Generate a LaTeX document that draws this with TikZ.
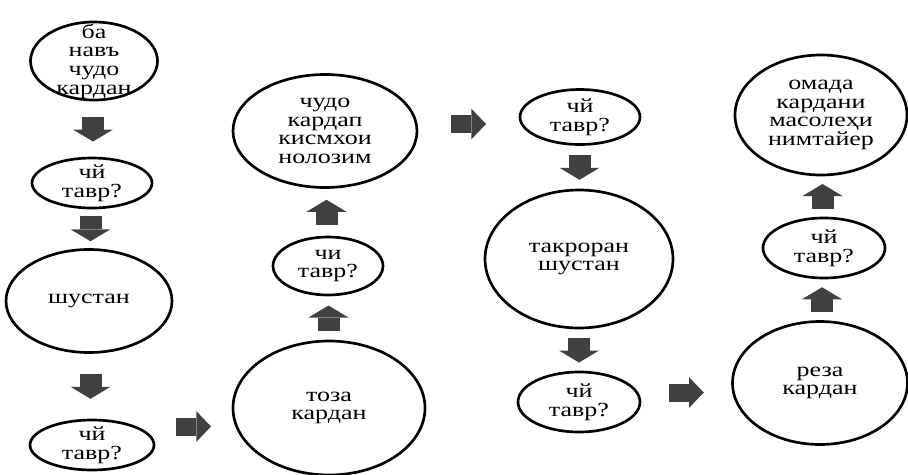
\documentclass[tikz,border=0pt]{standalone}
\usepackage{fontspec}
\setmainfont{Liberation Serif}[FakeStretch=1.3]
\usetikzlibrary{shapes.geometric,arrows.meta,calc}

\definecolor{flowgray}{RGB}{64,64,64}
\tikzset{every picture/.style={line width=0.75pt}}
\tikzset{
  ell/.style={draw, ellipse, line width=2pt, inner sep=0pt},
  txt/.style={align=center, inner sep=0pt, font=\fontsize{15}{14}\selectfont},
  vflow/.style={draw=flowgray, line width=16.5pt, -{Triangle[length=9pt,width=30pt,line width=0pt]}},
  hflow/.style={draw=flowgray, line width=13.5pt, -{Triangle[length=11pt,width=23pt,line width=0pt]}},
}

\begin{document}
\begin{tikzpicture}[x=0.75pt,y=0.75pt,yscale=-1,xscale=1]
	\useasboundingbox (0,0) rectangle (908,475);
	
	%Column 1
	\node [ell, minimum width=95.25pt, minimum height=58.5pt, label={[txt]center:ба\\навъ\\чудо\\кардан}] (e1) at (94,61) {};
	\node [ell, minimum width=90pt, minimum height=37.5pt, label={[txt]center:чй\\тавр?}] (e2) at (92,183) {};
	\node [ell, minimum width=124.5pt, minimum height=77.25pt, label={[txt]center:шустан}] (e3) at (89,301) {};
	\node [ell, minimum width=93pt, minimum height=37.5pt, label={[txt]center:чй\\тавр?}] (e4) at (92,445) {};
	%Column 2
	\node [ell, minimum width=144pt, minimum height=100.5pt, label={[txt]center:тоза\\кардан}] (e5) at (329,408) {};
	\node [ell, minimum width=82.5pt, minimum height=43.5pt, label={[txt]center:чи\\тавр?}] (e6) at (328,266) {};
	\node [ell, minimum width=138pt, minimum height=84.75pt, label={[txt]center:чудо\\кардап\\кисмхои\\нолозим}] (e7) at (325,131) {};
	%Column 3
	\node [ell, minimum width=90pt, minimum height=41.25pt, label={[txt]center:чй\\тавр?}] (e8) at (580,117) {};
	\node [ell, minimum width=141pt, minimum height=103.5pt, label={[txt]center:такроран\\шустан}] (e9) at (579,259) {};
	\node [ell, minimum width=91.5pt, minimum height=45pt, label={[txt]center:чй\\тавр?}] (e10) at (579,402) {};
	%Column 4
	\node [ell, minimum width=131.25pt, minimum height=92.25pt, label={[txt]center:реза\\кардан}] (e11) at (820,383) {};
	\node [ell, minimum width=91.5pt, minimum height=45pt, label={[txt]center:чй\\тавр?}] (e12) at (824,248) {};
	\node [ell, minimum width=129pt, minimum height=90pt, label={[txt]center:омада\\кардани\\масолеҳи\\нимтайер}] (e13) at (821,115) {};
	
	%Block arrows
	\draw [vflow] ($(e1.south)!.5!(e2.north)+(0,-12.5)$) -- ++(0,25);
	\draw [vflow] ($(e2.south)!.5!(e3.north)+(0,-12.5)$) -- ++(0,25);
	\draw [vflow] ($(e3.south)!.5!(e4.north)+(0,-12.5)$) -- ++(0,25);
	\draw [hflow] ($(e4.east)!.5!(e5.west)+(-17.5,0)$) -- ++(35,0);
	\draw [vflow] ($(e5.north)!.5!(e6.south)+(0,12.5)$) -- ++(0,-25);
	\draw [vflow] ($(e6.north)!.5!(e7.south)+(0,12.5)$) -- ++(0,-25);
	\draw [hflow] ($(e7.east)!.5!(e8.west)+(-17.5,0)$) -- ++(35,0);
	\draw [vflow] ($(e8.south)!.5!(e9.north)+(0,-12.5)$) -- ++(0,25);
	\draw [vflow] ($(e9.south)!.5!(e10.north)+(0,-12.5)$) -- ++(0,25);
	\draw [hflow] ($(e10.east)!.5!(e11.west)+(-17.5,0)$) -- ++(35,0);
	\draw [vflow] ($(e11.north)!.5!(e12.south)+(0,12.5)$) -- ++(0,-25);
	\draw [vflow] ($(e12.north)!.5!(e13.south)+(0,12.5)$) -- ++(0,-25);
	
\end{tikzpicture}
\end{document}
